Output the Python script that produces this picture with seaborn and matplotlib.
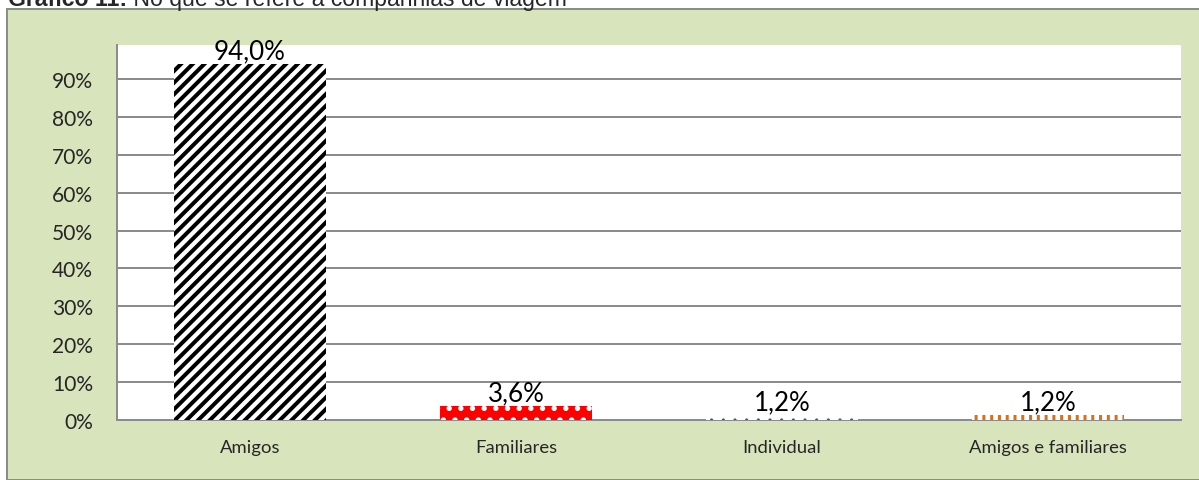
import matplotlib
matplotlib.use("Agg")
import matplotlib.pyplot as plt
import seaborn as sns
import pandas as pd
from matplotlib.patches import Rectangle

categories = ["Amigos", "Familiares", "Individual", "Amigos e familiares"]
values = [0.940, 0.036, 0.012, 0.012]
value_labels = ["94,0%", "3,6%", "1,2%", "1,2%"]
y_ticks = [0.0, 0.1, 0.2, 0.3, 0.4, 0.5, 0.6, 0.7, 0.8, 0.9]
y_tick_labels = ["0%", "10%", "20%", "30%", "40%", "50%", "60%", "70%", "80%", "90%"]
title_bold = "Gráfico 11:"
title_rest = " No que se refere à companhias de viagem"

DPI = 140
W, H = 1199, 481


def px(p):
    return p * 72.0 / DPI


sns.set_theme(style="white")
plt.rcParams["font.family"] = ["Lato", "DejaVu Sans"]
plt.rcParams["hatch.linewidth"] = px(4.0)

fig = plt.figure(figsize=(W / DPI, H / DPI), dpi=DPI)
fig.patch.set_facecolor("white")

# green panel
panel = Rectangle((7 / W, 0), 1.0, (H - 10) / H, transform=fig.transFigure,
                  facecolor="#D8E4BC", edgecolor="#8C8C8C", linewidth=px(2), zorder=-5)
fig.patches.append(panel)

# title (partly cut off at top, as in the source)
t1 = fig.text(8 / W, (H - 6) / H, title_bold, fontsize=px(23), fontweight="bold",
              family=["Liberation Sans"], va="baseline", ha="left")
fig.canvas.draw()
bb = t1.get_window_extent()
fig.text(bb.x1 / W, (H - 6) / H, title_rest, fontsize=px(23),
         family=["Liberation Sans"], va="baseline", ha="left")

left, right, top, bottom = 117, 1181, 46, 421
ax = fig.add_axes([left / W, (H - bottom) / H, (right - left) / W, (bottom - top) / H])
ax.set_zorder(2)
ax.set_facecolor("white")

df = pd.DataFrame({"cat": categories, "val": values})
sns.barplot(data=df, x="cat", y="val", ax=ax, width=0.575, color="white",
            linewidth=0, zorder=3)

styles = [
    dict(face="white", hatch="////", hc="black", hlw=4.0),
    dict(face="#FF0000", hatch="..", hc="white", hlw=3.0),
    dict(face="white", hatch="..", hc="#44546A", hlw=0.8),
    dict(face="white", hatch="|||", hc="#E46C0A", hlw=3.0),
]
for p, s in zip(ax.patches, styles):
    p.set_facecolor(s["face"])
    p.set_hatch(s["hatch"])
    p.set_edgecolor(s["hc"])
    p.set_linewidth(0)
    if hasattr(p, "set_hatch_linewidth"):
        p.set_hatch_linewidth(px(s["hlw"]))

for i, (v, lab) in enumerate(zip(values, value_labels)):
    ax.annotate(lab, (i, v), xytext=(0, px(1)), textcoords="offset points",
                ha="center", va="bottom", fontsize=px(26), color="black", zorder=5)

ax.set_ylim(0, 0.99)
ax.set_xlim(-0.5, 3.5)
ax.set_yticks(y_ticks)
ax.set_yticklabels(y_tick_labels, fontsize=px(21))
ax.tick_params(axis="y", length=0, pad=px(24))
ax.tick_params(axis="x", length=0, pad=px(19), labelsize=px(18.5))
ax.set_xlabel("")
ax.set_ylabel("")
ax.yaxis.grid(True, color="#8C8C8C", linewidth=px(2), zorder=0)
ax.set_axisbelow(True)
for side in ["top", "right"]:
    ax.spines[side].set_visible(False)
for side in ["left", "bottom"]:
    ax.spines[side].set_visible(True)
    ax.spines[side].set_color("#8C8C8C")
    ax.spines[side].set_linewidth(px(2))

fig.savefig("out.png", dpi=DPI)
